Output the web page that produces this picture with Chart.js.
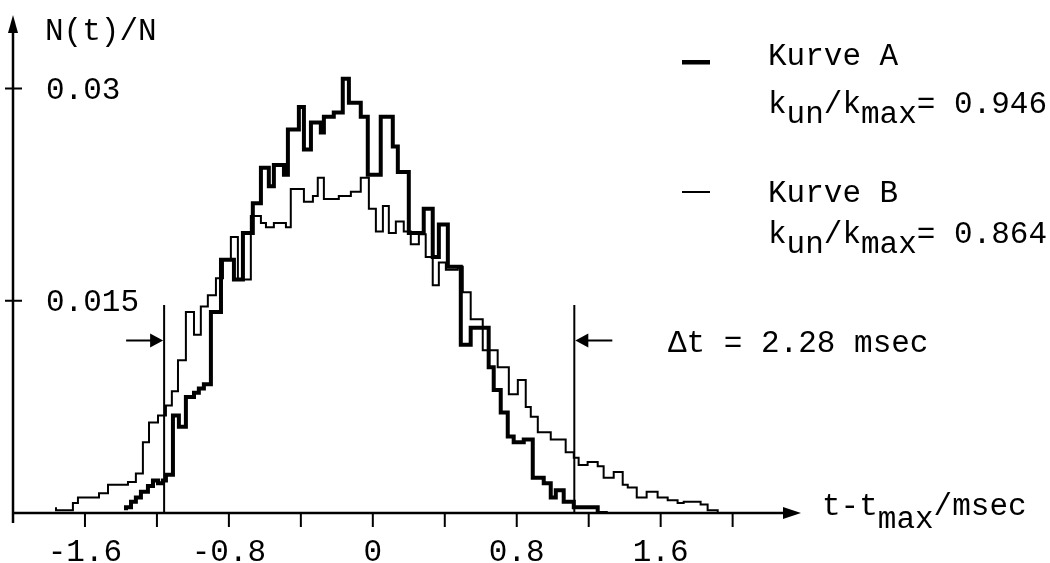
<!DOCTYPE html>
<html>
<head>
<meta charset="utf-8">
<script src="https://cdn.jsdelivr.net/npm/chart.js@4"></script>
<style>
    body { margin: 0; background: #fff; }
</style>
</head>
<body>
<canvas id="chartCanvas" width="1050" height="563"></canvas>
<script>
// Kurve A (thick): left bin edges and heights, last value closes the curve at 0
const edgesA = [-1.372, -1.344, -1.317, -1.289, -1.25, -1.222, -1.194, -1.167, -1.15, -1.111,
    -1.078, -1.039, -0.994, -0.967, -0.939, -0.9, -0.844, -0.772, -0.722, -0.667,
    -0.622, -0.578, -0.55, -0.494, -0.472, -0.411, -0.383, -0.344, -0.289, -0.272,
    -0.217, -0.167, -0.133, -0.067, -0.028, 0.044, 0.111, 0.139, 0.2, 0.283,
    0.333, 0.367, 0.417, 0.489, 0.544, 0.644, 0.672, 0.711, 0.75, 0.783,
    0.839, 0.889, 0.95, 0.989, 1.017, 1.061, 1.117, 1.25, 1.306];
const heightsA = [0.0002, 0.0004, 0.0008, 0.0011, 0.0015, 0.0019, 0.0023, 0.0021, 0.0023, 0.0027,
    0.0069, 0.0061, 0.0082, 0.0085, 0.0088, 0.0091, 0.0142, 0.0179, 0.0165, 0.0198,
    0.0219, 0.0244, 0.0231, 0.0246, 0.0239, 0.0271, 0.0287, 0.0257, 0.0276, 0.0269,
    0.028, 0.0283, 0.0307, 0.029, 0.028, 0.0239, 0.028, 0.0259, 0.0241, 0.0198,
    0.0215, 0.0181, 0.0204, 0.0174, 0.0119, 0.0131, 0.0103, 0.0087, 0.0071, 0.0054,
    0.005, 0.0052, 0.0025, 0.0021, 0.0011, 0.0016, 0.0008, 0.0004, 0];

// Kurve B (thin)
const edgesB = [-1.761, -1.667, -1.639, -1.522, -1.472, -1.361, -1.317, -1.278, -1.244, -1.194,
    -1.15, -1.117, -1.083, -1.039, -0.994, -0.956, -0.917, -0.872, -0.833, -0.789,
    -0.75, -0.678, -0.622, -0.594, -0.55, -0.483, -0.456, -0.383, -0.333, -0.306,
    -0.272, -0.189, -0.122, -0.067, -0.022, 0.017, 0.056, 0.089, 0.128, 0.172,
    0.211, 0.256, 0.294, 0.333, 0.367, 0.406, 0.472, 0.5, 0.544, 0.611,
    0.694, 0.756, 0.806, 0.85, 0.878, 0.917, 0.989, 1.072, 1.117, 1.144,
    1.194, 1.25, 1.283, 1.339, 1.389, 1.417, 1.467, 1.522, 1.583, 1.639,
    1.694, 1.728, 1.822, 1.861, 1.917, 1.944];
const heightsB = [0.0004, 0.0002, 0.0007, 0.0011, 0.0014, 0.002, 0.0022, 0.0028, 0.005, 0.0064,
    0.0069, 0.0076, 0.0086, 0.0108, 0.0142, 0.0126, 0.0146, 0.0154, 0.0166, 0.0179,
    0.0195, 0.0165, 0.021, 0.0205, 0.0202, 0.0205, 0.0202, 0.0229, 0.022, 0.0224,
    0.0237, 0.0222, 0.0224, 0.0227, 0.0237, 0.0215, 0.0199, 0.0217, 0.0198, 0.0206,
    0.0199, 0.019, 0.0197, 0.0181, 0.0161, 0.0177, 0.0172, 0.0174, 0.0156, 0.0137,
    0.0115, 0.0103, 0.0084, 0.0094, 0.0075, 0.0068, 0.0057, 0.0052, 0.0043, 0.0039,
    0.0034, 0.0036, 0.0033, 0.0025, 0.0029, 0.002, 0.0018, 0.0011, 0.0015, 0.0011,
    0.0009, 0.0007, 0.0008, 0.0006, 0.0002, 0];

const xTicks = [-1.6, -1.2, -0.8, -0.4, 0, 0.4, 0.8, 1.2, 1.6, 2.0];
const xLabelValues = [-1.6, -0.8, 0, 0.8, 1.6];
const xLabels = ['-1.6', '-0.8', '0', '0.8', '1.6'];
const yTicks = [0.015, 0.03];
const yLabels = ['0.015', '0.03'];

// Δt markers (2.28 msec apart)
const deltaMarks = [-1.16, 1.12];
const deltaTop = 0.0147;
const deltaArrowY = 0.0122;

const FONT = '31px "Liberation Mono", "DejaVu Sans Mono", monospace';

function toPoints(xs, ys) {
    return xs.map((x, i) => ({ x: x, y: ys[i] }));
}

function drawRich(ctx, parts, x, y) {
    parts.forEach(([txt, drop]) => {
        ctx.fillText(txt, x, y + drop);
        x += ctx.measureText(txt).width;
    });
}

function arrowHead(ctx, tipX, tipY, dx, dy, len, half) {
    // dx,dy: unit direction the arrow points to
    ctx.beginPath();
    ctx.moveTo(tipX, tipY);
    ctx.lineTo(tipX - dx * len - dy * half, tipY - dy * len - dx * half);
    ctx.lineTo(tipX - dx * len + dy * half, tipY - dy * len + dx * half);
    ctx.closePath();
    ctx.fill();
}

const paperPlugin = {
    id: 'paper',
    afterDatasetsDraw(chart) {
        const ctx = chart.ctx;
        const a = chart.chartArea;
        const xs = chart.scales.x;
        const ys = chart.scales.y;

        ctx.save();
        ctx.strokeStyle = '#000';
        ctx.fillStyle = '#000';
        ctx.lineCap = 'butt';

        // axes
        ctx.lineWidth = 2.5;
        ctx.beginPath();
        ctx.moveTo(a.left, a.bottom + 10);
        ctx.lineTo(a.left, a.top + 12);
        ctx.moveTo(a.left, a.bottom);
        ctx.lineTo(a.right - 12, a.bottom);
        ctx.stroke();
        arrowHead(ctx, a.left, a.top, 0, -1, 18, 5);
        arrowHead(ctx, a.right, a.bottom, 1, 0, 18, 6);

        // ticks
        ctx.lineWidth = 2;
        ctx.beginPath();
        xTicks.forEach(v => {
            const px = xs.getPixelForValue(v);
            ctx.moveTo(px, a.bottom);
            ctx.lineTo(px, a.bottom + 14);
        });
        yTicks.forEach(v => {
            const py = ys.getPixelForValue(v);
            ctx.moveTo(a.left - 8, py);
            ctx.lineTo(a.left + 9, py);
        });
        ctx.stroke();

        // tick labels
        ctx.font = FONT;
        ctx.textAlign = 'center';
        ctx.textBaseline = 'alphabetic';
        xLabelValues.forEach((v, i) => {
            ctx.fillText(xLabels[i], xs.getPixelForValue(v), 561);
        });
        ctx.textAlign = 'left';
        ctx.textBaseline = 'middle';
        yTicks.forEach((v, i) => {
            ctx.fillText(yLabels[i], a.left + 33, ys.getPixelForValue(v) + 2);
        });

        // axis titles
        ctx.textBaseline = 'alphabetic';
        ctx.fillText('N(t)/N', 45, 40);
        drawRich(ctx, [['t-t', 0], ['max', 13], ['/msec', 0]], 822, 515);

        // Δt markers
        ctx.lineWidth = 2;
        const topPx = ys.getPixelForValue(deltaTop);
        const arrowPx = ys.getPixelForValue(deltaArrowY);
        const lx = xs.getPixelForValue(deltaMarks[0]);
        const rx = xs.getPixelForValue(deltaMarks[1]);
        ctx.beginPath();
        ctx.moveTo(lx, a.bottom);
        ctx.lineTo(lx, topPx);
        ctx.moveTo(rx, a.bottom);
        ctx.lineTo(rx, topPx);
        ctx.moveTo(lx - 38, arrowPx);
        ctx.lineTo(lx - 10, arrowPx);
        ctx.moveTo(rx + 38, arrowPx);
        ctx.lineTo(rx + 10, arrowPx);
        ctx.stroke();
        arrowHead(ctx, lx - 1, arrowPx, 1, 0, 13, 7);
        arrowHead(ctx, rx + 1, arrowPx, -1, 0, 13, 7);
        ctx.fillText('\u0394t = 2.28 msec', 668, 352);

        // legend
        ctx.fillRect(682, 60, 28, 4.5);
        ctx.fillRect(682, 191, 28, 2);
        ctx.fillText('Kurve A', 768, 65);
        drawRich(ctx, [['k', 0], ['un', 10], ['/', 0], ['k', 0], ['max', 10], ['= 0.946', 0]], 768, 113);
        ctx.fillText('Kurve B', 768, 202);
        drawRich(ctx, [['k', 0], ['un', 10], ['/', 0], ['k', 0], ['max', 10], ['= 0.864', 0]], 768, 243);

        ctx.restore();
    }
};

const ctx = document.getElementById('chartCanvas').getContext('2d');
const chart = new Chart(ctx, {
    type: 'line',
    data: {
        datasets: [
            {
                label: 'Kurve A',
                data: toPoints(edgesA, heightsA),
                stepped: 'after',
                borderColor: '#000',
                borderWidth: 4,
                pointRadius: 0,
                fill: false
            },
            {
                label: 'Kurve B',
                data: toPoints(edgesB, heightsB),
                stepped: 'after',
                borderColor: '#000',
                borderWidth: 2,
                pointRadius: 0,
                fill: false
            }
        ]
    },
    options: {
        responsive: false,
        animation: false,
        devicePixelRatio: 1,
        layout: {
            padding: { left: 13, right: 249, top: 15, bottom: 50 }
        },
        plugins: {
            legend: { display: false },
            tooltip: { enabled: false }
        },
        scales: {
            x: { type: 'linear', min: -2.0, max: 2.38, display: false },
            y: { min: 0, max: 0.0352, display: false }
        }
    },
    plugins: [paperPlugin]
});
</script>
</body>
</html>
